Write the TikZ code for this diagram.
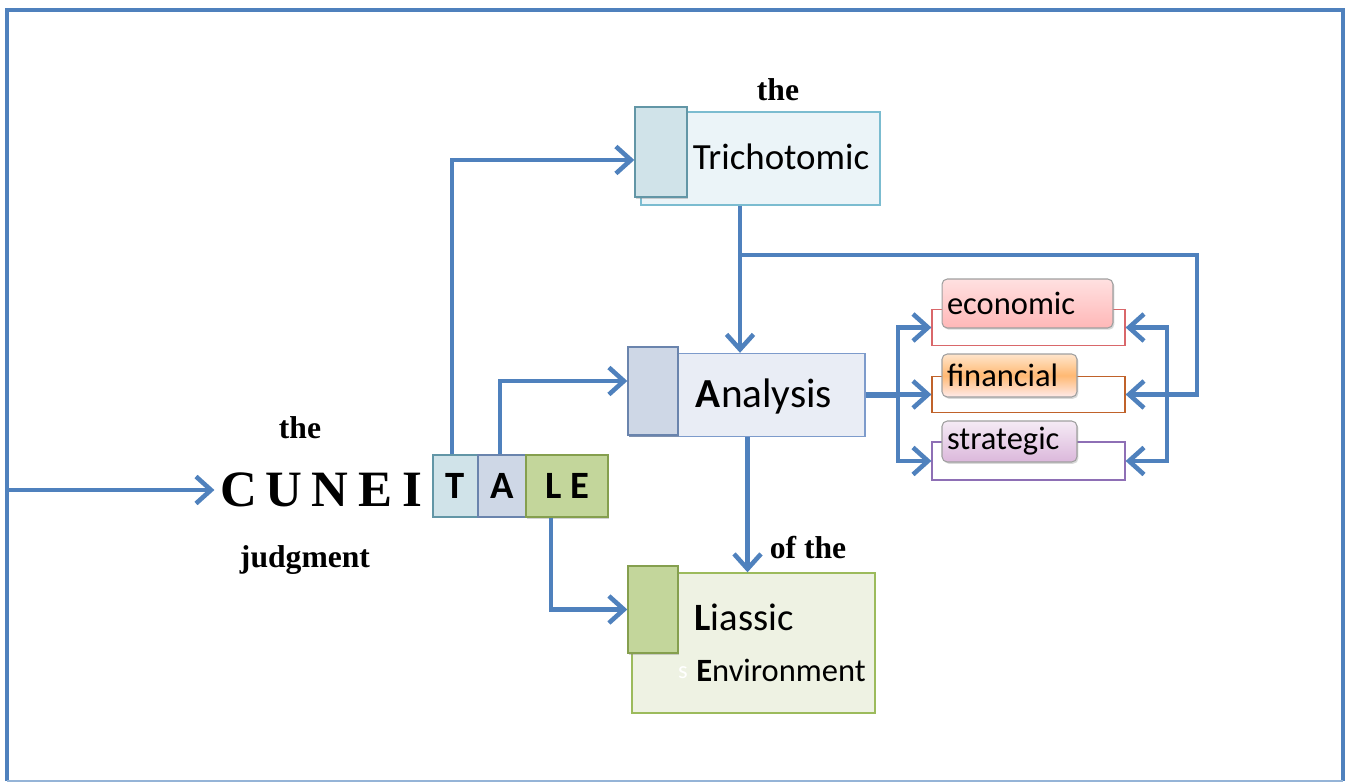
\documentclass[tikz,border=0pt]{standalone}
\usepackage{fontspec}
\setmainfont{Liberation Serif}
\newfontfamily\calfont{Carlito}
\usepackage{tikz}
\usetikzlibrary{arrows.meta,shadows}
\usepackage{xcolor}
\definecolor{flowblue}{HTML}{4F81BD}
\definecolor{triline}{HTML}{7BBCD0}
\definecolor{trifill}{HTML}{EBF4F8}
\definecolor{trisq}{HTML}{D0E3E9}
\definecolor{anaLine}{HTML}{7D9BCB}
\definecolor{anafill}{HTML}{E9EDF5}
\definecolor{anasq}{HTML}{CED7E6}
\definecolor{lialine}{HTML}{9CBB5C}
\definecolor{liafill}{HTML}{EEF2E3}
\definecolor{liasq}{HTML}{C3D69B}
\definecolor{ecoline}{HTML}{D9676A}
\definecolor{finline}{HTML}{C0622A}
\definecolor{strline}{HTML}{8E6FB5}

\begin{document}
\begin{tikzpicture}[x=0.02cm,y=-0.02cm,
  flow/.style={flowblue,line width=2.6pt,-{Straight Barb[length=3mm,width=5.4mm]}},
  plainbox/.style={draw,line width=0.8pt,inner sep=0pt},
  sqbox/.style={plainbox,drop shadow={shadow xshift=0.8pt,shadow yshift=-1pt,opacity=0.35}},
  tag/.style={draw=gray!75,line width=0.6pt,rounded corners=3pt,inner sep=0.1cm,align=left,
    font=\calfont\fontsize{18.5}{20}\selectfont,
    drop shadow={shadow xshift=0.8pt,shadow yshift=-1pt,opacity=0.3}},
  outl/.style={draw,line width=0.7pt,minimum width=3.86cm,minimum height=0.72cm,inner sep=0pt},
  serif/.style={font=\bfseries\fontsize{18}{20}\selectfont},
  cun/.style={font=\bfseries\fontsize{29}{32}\selectfont},
  big/.style={font=\calfont\fontsize{22}{24}\selectfont,inner sep=0pt}]
\useasboundingbox (0,0) rectangle (1349,783);
\draw[flowblue,line width=2.6pt] (7,781) -- (7,10) -- (1343,10) -- (1343,781);
\draw[flowblue!60,line width=0.8pt] (7,781) -- (1343,781);

\node[plainbox,draw=triline,fill=trifill,minimum width=4.78cm,minimum height=1.86cm] (tri) at (760.5,158.5) {};
\node[sqbox,draw=triline!80!black,fill=trisq,minimum width=1.04cm,minimum height=1.8cm] (tri-sq) at (661,152) {};
\node[big,font=\calfont\fontsize{21}{24}\selectfont] (tri-t) at (781,157) {Trichotomic};
\node[serif] (the-t) at (778,90) {the};

\node[plainbox,draw=anaLine,fill=anafill,minimum width=4.70cm,minimum height=1.66cm] (ana) at (747.5,395) {};
\node[sqbox,draw=anaLine!85!black,fill=anasq,minimum width=1.0cm,minimum height=1.76cm] (ana-sq) at (653,391) {};
\node[big,font=\calfont\fontsize{23.5}{26}\selectfont] (ana-t) at (764,396) {\textbf{A}nalysis};

\node[plainbox,draw=lialine,fill=liafill,minimum width=4.86cm,minimum height=2.8cm] (lia) at (753.5,643) {};
\node[sqbox,draw=lialine!85!black,fill=liasq,minimum width=1.0cm,minimum height=1.74cm] (lia-sq) at (653,609.5) {};
\node[big,anchor=west] (lia-t) at (694,617) {\textbf{L}iassic};
\node[big,anchor=west,font=\calfont\fontsize{18.5}{22}\selectfont] (env-t) at (696,670) {\textbf{E}nvironment};
\node[white,font=\calfont\fontsize{14}{16}\selectfont] (env-s) at (683,673) {s};
\node[serif] (ofthe) at (808,548) {of the};

\node[plainbox,draw=triline!80!black,fill=trisq,minimum width=0.9cm,minimum height=1.24cm,
  font=\calfont\bfseries\fontsize{22}{24}\selectfont] (boxT) at (455.5,486) {T};
\node[plainbox,draw=anaLine!85!black,fill=anasq,minimum width=0.96cm,minimum height=1.24cm,
  font=\calfont\bfseries\fontsize{22}{24}\selectfont] (boxA) at (502,486) {A};
\node[sqbox,draw=lialine!85!black,fill=liasq,minimum width=1.64cm,minimum height=1.24cm,
  font=\calfont\bfseries\fontsize{22}{24}\selectfont] (boxLE) at (567,486) {L E};

\foreach \ch/\x [count=\i] in {C/239,U/284,N/330,E/375,I/412}
    \node[cun] (cun\i) at (\x,490) {\ch};
\node[serif] (the-c) at (300,428) {the};
\node[serif] (judg) at (305,560) {judgment};

\node[outl,draw=ecoline] (eco) at (1028.5,327.5) {};
\node[outl,draw=finline] (fin) at (1028.5,394.5) {};
\node[outl,draw=strline,minimum height=0.76cm] (str) at (1028.5,461) {};
\node[tag,top color=red!12,bottom color=red!28,text width=3.22cm,minimum height=0.98cm] (eco-t) at (1027.5,303.5) {economic};
\node[tag,top color=orange!20,bottom color=red!8,middle color=orange!55,text width=2.5cm,minimum height=0.86cm] (fin-t) at (1009.5,375.5) {financial};
\node[tag,top color=violet!8,bottom color=violet!28,text width=2.5cm,minimum height=0.82cm] (str-t) at (1009.5,441.5) {strategic};

\coordinate (start) at (8,490);
\coordinate (jn) at (740,255);
\coordinate (jr) at (1197,255);
\coordinate (lb) at (898,394.5);
\coordinate (rb) at (1167,394.5);

\draw[flow] (start) -- (cun1.west);
\draw[flow] ([xshift=-0.07cm]boxT.north) |- ([yshift=-0.16cm]tri-sq.west);
\draw[flow] ([xshift=-0.04cm]boxA.north) |- ([yshift=0.2cm]ana-sq.west);
\draw[flow] ([xshift=-0.32cm]boxLE.south) |- (lia-sq.west);
\draw[flow] ([xshift=-0.41cm]tri.south) -- ([xshift=-0.41cm]tri.south |- ana.north);
\draw[flow] (jn) -- (jr) |- (fin.east);
\draw[flow] (ana.south) -- (ana.south |- lia.north);
\draw[flowblue,line width=3.6pt] (ana.east) -- (ana.east -| lb);
\draw[flow] (lb) |- (eco.west);
\draw[flow] (lb) -- (fin.west);
\draw[flow] (lb) |- (str.west);
\draw[flow] (rb) |- (eco.east);
\draw[flow] (rb) |- (str.east);
\end{tikzpicture}
\end{document}
